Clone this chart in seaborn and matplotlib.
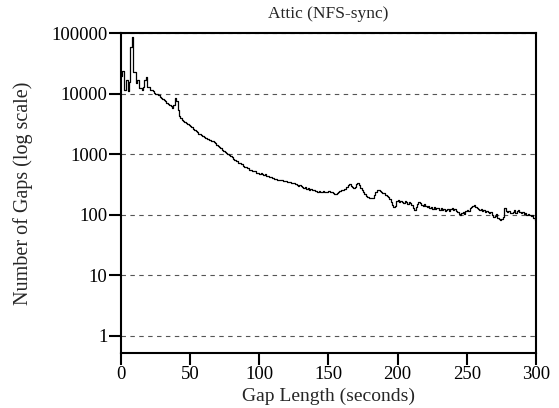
import numpy as np
import pandas as pd
import matplotlib
matplotlib.use('Agg')
import matplotlib.pyplot as plt
from matplotlib.ticker import FixedLocator, NullLocator
import seaborn as sns

# Number of gaps per 1-second bin (bins 0..299 s)
gap_counts = [
    20000, 24000, 11700, 11700, 17000, 11000, 16000, 60000, 89000, 23000,
    23000, 15000, 17000, 12600, 12600, 11500, 13000, 17000, 19000, 13000,
    13000, 11500, 11800, 11200, 10500, 10000, 9800, 9500, 9000, 8600,
    8300, 7900, 7600, 7200, 6900, 6600, 6200, 5900, 6500, 8500,
    7500, 5400, 4300, 4000, 3700, 3550, 3400, 3300, 3150, 3050,
    2900, 2800, 2600, 2500, 2400, 2350, 2200, 2150, 2080, 2000,
    1950, 1900, 1820, 1780, 1720, 1680, 1640, 1600, 1520, 1450,
    1400, 1330, 1270, 1200, 1150, 1090, 1040, 1000, 960, 930,
    890, 850, 820, 790, 770, 730, 710, 690, 650, 630,
    610, 590, 600, 560, 550, 530, 525, 530, 500, 495,
    480, 490, 465, 460, 470, 440, 435, 420, 425, 400,
    400, 390, 392, 375, 380, 370, 372, 360, 368, 358,
    355, 348, 350, 338, 342, 335, 320, 315, 305, 308,
    295, 292, 282, 285, 272, 275, 262, 266, 255, 258,
    248, 252, 240, 246, 242, 238, 244, 236, 242, 238,
    244, 238, 235, 228, 225, 220, 230, 240, 248, 255,
    258, 268, 272, 292, 310, 322, 305, 290, 275, 292,
    318, 335, 312, 280, 262, 240, 222, 205, 196, 190,
    188, 192, 190, 215, 235, 255, 262, 248, 238, 228,
    226, 212, 205, 198, 185, 165, 145, 136, 142, 170,
    176, 166, 172, 162, 158, 168, 164, 150, 160, 154,
    146, 130, 120, 136, 152, 165, 154, 148, 138, 150,
    138, 134, 142, 128, 136, 126, 134, 125, 130, 128,
    122, 130, 119, 127, 116, 121, 126, 117, 123, 129,
    121, 126, 117, 110, 104, 98, 109, 113, 104, 116,
    121, 117, 129, 134, 141, 145, 137, 131, 124, 118,
    123, 114, 121, 111, 117, 112, 107, 113, 100, 93,
    97, 103, 90, 86, 82, 85, 91, 128, 117, 110,
    116, 107, 106, 113, 119, 109, 116, 121, 111, 108,
    113, 105, 106, 99, 104, 100, 95, 99, 90, 82,
]
gap_start = list(range(len(gap_counts)))

x_ticks = [0, 50, 100, 150, 200, 250, 300]
y_ticks = [1, 10, 100, 1000, 10000, 100000]
y_tick_labels = ['1', '10', '100', '1000', '10000', '100000']

sns.set_style('ticks')
plt.rcParams['font.family'] = ['Liberation Serif', 'DejaVu Serif']

df = pd.DataFrame({'gap': gap_start, 'count': gap_counts})

fig, ax = plt.subplots(figsize=(5.59, 4.08), dpi=100)
fig.subplots_adjust(left=0.216, right=0.959, top=0.918, bottom=0.135)

sns.histplot(data=df, x='gap', weights='count', bins=len(gap_counts),
             binrange=(0, len(gap_counts)), element='step', fill=False,
             color='black', linewidth=0.9, ax=ax)

ax.set_yscale('log')
ax.set_xlim(0, 300)
ax.set_ylim(0.52, 100000)
ax.xaxis.set_major_locator(FixedLocator(x_ticks))
ax.yaxis.set_major_locator(FixedLocator(y_ticks))
ax.set_yticklabels(y_tick_labels)
ax.yaxis.set_minor_locator(NullLocator())

# dashed horizontal grid only
ax.yaxis.grid(True, linestyle=(0, (4, 4)), color='#555555', linewidth=0.8)
ax.xaxis.grid(False)
ax.set_axisbelow(True)

for sp in ax.spines.values():
    sp.set_linewidth(1.5)
    sp.set_color('black')
ax.tick_params(axis='both', direction='out', length=8.5, width=1.5,
               labelsize=13.5, colors='black', pad=1)

ax.set_title('Attic (NFS-sync)', fontsize=12.5, pad=11)
ax.set_xlabel('Gap Length (seconds)', fontsize=14, labelpad=3)
ax.set_ylabel('Number of Gaps (log scale)', fontsize=14.5, labelpad=13)

fig.savefig('out.png', dpi=100)
